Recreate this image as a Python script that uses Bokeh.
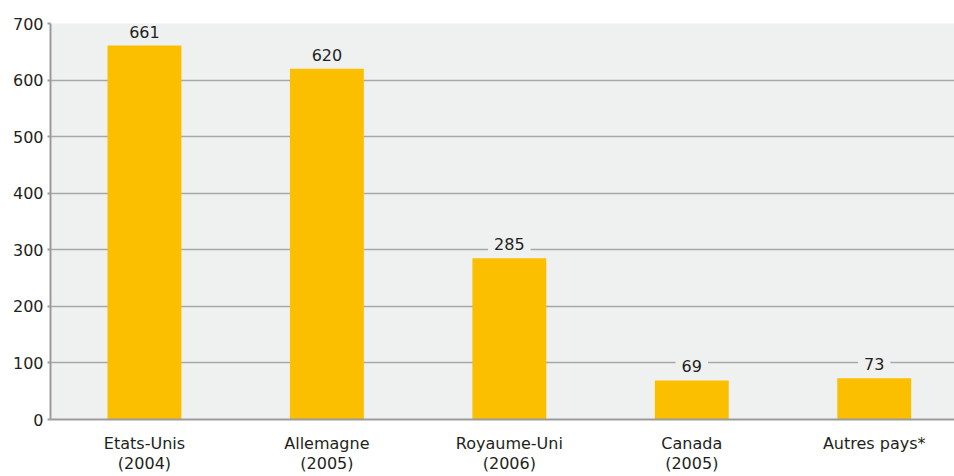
from bokeh.plotting import figure
from bokeh.models import ColumnDataSource, FixedTicker, Range1d
from bokeh.core.properties import value
from bokeh.embed import file_html
from bokeh.resources import INLINE

categories = ["Etats-Unis\n(2004)", "Allemagne\n(2005)", "Royaume-Uni\n(2006)", "Canada\n(2005)", "Autres pays*"]
values = [661, 620, 285, 69, 73]
y_ticks = [0, 100, 200, 300, 400, 500, 600, 700]

positions = list(range(len(categories)))
FONT = "DejaVu Sans"
TEXT = "#231f20"
BG = "#eff0f0"

src = ColumnDataSource(dict(x=positions, top=values, label=[str(v) for v in values]))

p = figure(width=954, height=476, output_backend="svg", toolbar_location=None,
           x_range=Range1d(-0.515, 4.44), y_range=Range1d(0, 700),
           min_border_left=50, min_border_right=0, min_border_top=23, min_border_bottom=56)
p.background_fill_color = BG
p.border_fill_color = "white"
p.outline_line_color = None

p.vbar(x="x", top="top", width=0.405, source=src, fill_color="#fbbf00", line_color=None)

p.text(x="x", y="top", text="label", source=src, text_align="center",
       text_baseline="bottom", y_offset=-7, text_font=value(FONT), text_font_size="16px",
       text_color=TEXT, background_fill_color=BG, padding=[6, 1])

p.xgrid.grid_line_color = None
p.ygrid.grid_line_color = "#a8a8a8"
p.ygrid.grid_line_width = 1.5
p.ygrid.ticker = FixedTicker(ticks=y_ticks)

p.yaxis.ticker = FixedTicker(ticks=y_ticks)
p.yaxis.axis_line_color = "#9b9b9b"
p.yaxis.axis_line_width = 2
p.yaxis.major_tick_line_color = "#9b9b9b"
p.yaxis.major_tick_line_width = 2
p.yaxis.major_tick_out = 3
p.yaxis.major_tick_in = 0
p.yaxis.minor_tick_line_color = None
p.yaxis.major_label_standoff = 4
p.yaxis.major_label_text_font = FONT
p.yaxis.major_label_text_font_size = "16px"
p.yaxis.major_label_text_color = TEXT

p.xaxis.ticker = FixedTicker(ticks=positions)
p.xaxis.major_label_overrides = {i: c for i, c in zip(positions, categories)}
p.xaxis.axis_line_color = "#9b9b9b"
p.xaxis.axis_line_width = 2
p.xaxis.major_tick_line_color = None
p.xaxis.minor_tick_line_color = None
p.xaxis.major_label_standoff = 8
p.xaxis.major_label_text_font = FONT
p.xaxis.major_label_text_font_size = "16px"
p.xaxis.major_label_text_color = TEXT
p.xaxis.major_label_text_line_height = 1.1

open("out.html", "w").write(file_html(p, INLINE))
